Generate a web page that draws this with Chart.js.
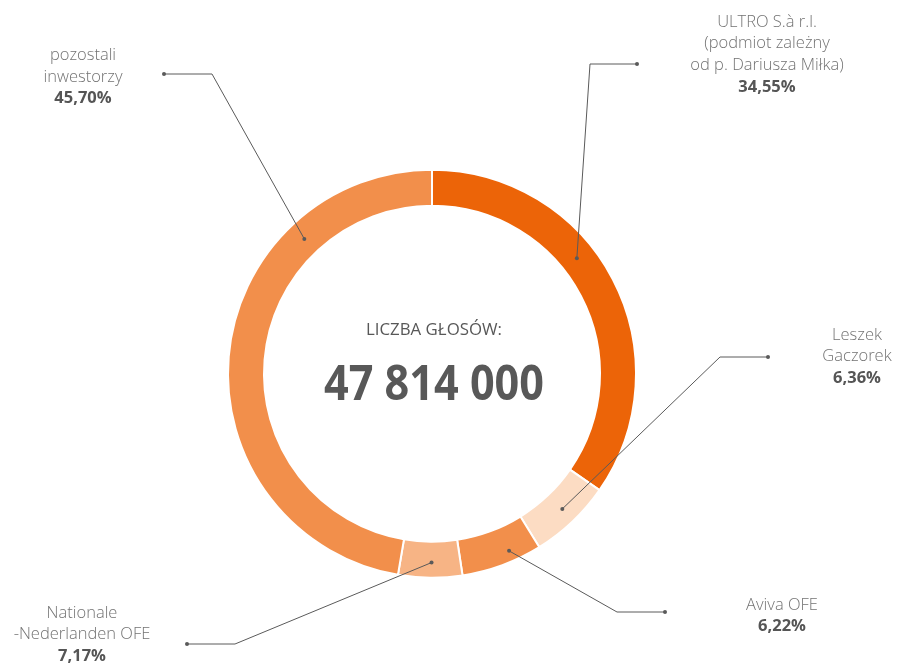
<!DOCTYPE html>
<html>
<head>
<meta charset="utf-8">
<script src="https://cdn.jsdelivr.net/npm/chart.js@4.4.1/dist/chart.umd.min.js"></script>
<style>
  html, body { margin: 0; padding: 0; background: #ffffff; }
  #wrap { width: 899px; height: 665px; position: relative; }
</style>
</head>
<body>
<div id="wrap"><canvas id="c" width="899" height="665"></canvas></div>
<script>
// ---- data ----
const categories = [
  'ULTRO S.à r.l. (podmiot zależny od p. Dariusza Miłka)',
  'Leszek Gaczorek',
  'Aviva OFE',
  'Nationale-Nederlanden OFE',
  'pozostali inwestorzy'
];
const labelLines = [
  ['ULTRO S.à r.l.', '(podmiot zależny', 'od p. Dariusza Miłka)'],
  ['Leszek', 'Gaczorek'],
  ['Aviva OFE'],
  ['Nationale', '-Nederlanden OFE'],
  ['pozostali', 'inwestorzy']
];
// percentages printed in the labels
const labelPercents = ['34,55%', '6,36%', '6,22%', '7,17%', '45,70%'];
const sliceShares = [34.67, 6.51, 6.43, 5.06, 47.33];
const centerTitle = 'LICZBA GŁOSÓW:';
const totalVotes = '47 814 000';

// ---- styles / layout ----
const sliceColors = ['#EC6408', '#FCDCC3', '#F28F4B', '#F7B485', '#F28F4B'];
// where the leader line touches each slice: fraction along the arc, fraction across the ring
const anchorFrac = [0.412, 0.48, 0.356, 0.48, 0.745];
const anchorRadial = [0.48, 0.55, 0.70, 0.58, 0.49];
const leaderLayout = [
  { elbow: [590, 64],  dot: [637, 64],  textX: 767, textY: 22 },
  { elbow: [720, 357], dot: [768, 357], textX: 857, textY: 335 },
  { elbow: [617, 612], dot: [665, 612], textX: 782, textY: 605 },
  { elbow: [235, 644], dot: [187, 644], textX: 82,  textY: 613 },
  { elbow: [212, 74],  dot: [164, 74],  textX: 83,  textY: 55.5 }
];
const lineStep = 21.6;

const labelPlugin = {
  id: 'leaderLabels',
  afterDatasetsDraw(chart) {
    const ctx = chart.ctx;
    const meta = chart.getDatasetMeta(0);
    ctx.save();
    meta.data.forEach((arc, i) => {
      const p = arc.getProps(['x', 'y', 'startAngle', 'endAngle', 'innerRadius', 'outerRadius'], true);
      const a = p.startAngle + anchorFrac[i] * (p.endAngle - p.startAngle);
      const r = p.innerRadius + anchorRadial[i] * (p.outerRadius - p.innerRadius);
      const ax = p.x + r * Math.cos(a);
      const ay = p.y + r * Math.sin(a);
      const L = leaderLayout[i];
      ctx.strokeStyle = '#5a5a5a';
      ctx.lineWidth = 1;
      ctx.beginPath();
      ctx.moveTo(ax, ay);
      ctx.lineTo(L.elbow[0], L.elbow[1]);
      ctx.lineTo(L.dot[0], L.dot[1]);
      ctx.stroke();
      ctx.fillStyle = '#5a5a5a';
      [[ax, ay], L.dot].forEach(pt => {
        ctx.beginPath();
        ctx.arc(pt[0], pt[1], 2, 0, Math.PI * 2);
        ctx.fill();
      });
      ctx.textAlign = 'center';
      ctx.textBaseline = 'middle';
      const lines = labelLines[i];
      ctx.fillStyle = '#737373';
      ctx.font = '300 16.5px "Open Sans", "Noto Sans", sans-serif';
      lines.forEach((t, k) => ctx.fillText(t, L.textX, L.textY + k * lineStep));
      ctx.fillStyle = '#555555';
      ctx.font = 'bold 16.5px "Open Sans", "Noto Sans", sans-serif';
      ctx.fillText(labelPercents[i], L.textX, L.textY + lines.length * lineStep);
    });
    const p0 = meta.data[0].getProps(['x', 'y'], true);
    ctx.fillStyle = '#585858';
    ctx.textAlign = 'center';
    ctx.textBaseline = 'alphabetic';
    function fitText(txt, font, cx, baseY, targetW) {
      ctx.font = font;
      const w = ctx.measureText(txt).width;
      const s = targetW / w;
      ctx.save();
      ctx.translate(cx, baseY);
      ctx.scale(s, 1);
      ctx.fillText(txt, 0, 0);
      ctx.restore();
    }
    fitText(centerTitle, '400 17px "Open Sans", sans-serif', p0.x + 2, p0.y - 39, 136);
    fitText(totalVotes, 'bold 49px "Open Sans", sans-serif', p0.x + 2, p0.y + 26, 220);
    ctx.restore();
  }
};

new Chart(document.getElementById('c'), {
  type: 'doughnut',
  data: {
    labels: categories,
    datasets: [{
      data: sliceShares,
      backgroundColor: sliceColors,
      borderColor: '#ffffff',
      borderWidth: 2,
      hoverOffset: 0
    }]
  },
  options: {
    responsive: false,
    animation: false,
    cutout: 168,
    layout: { padding: { left: 227, right: 262, top: 168.7, bottom: 86.3 } },
    plugins: { legend: { display: false }, tooltip: { enabled: false } }
  },
  plugins: [labelPlugin]
});
</script>
</body>
</html>
